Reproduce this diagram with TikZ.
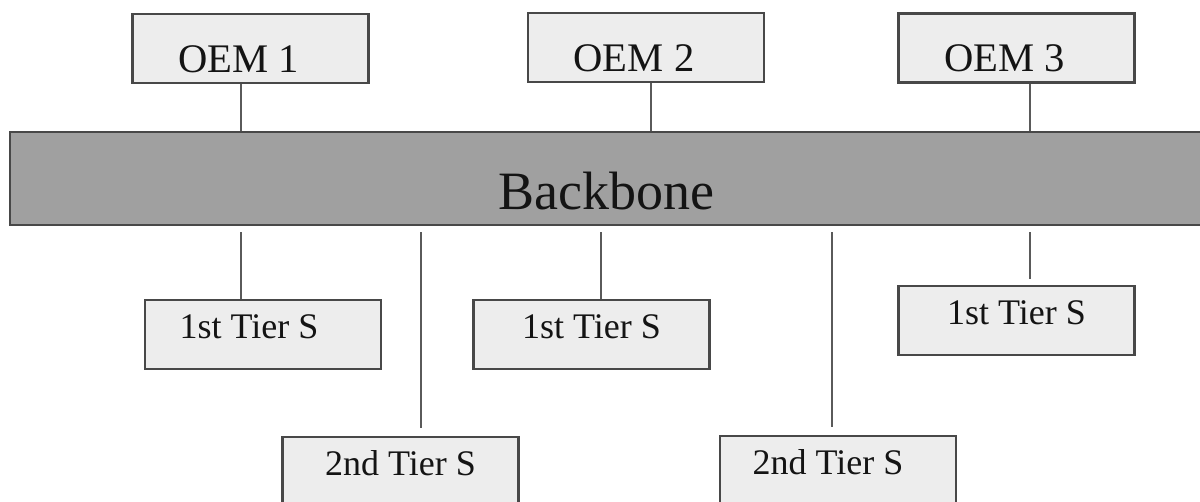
\documentclass[tikz,border=0pt]{standalone}
\usepackage{fontspec}
\setmainfont{Liberation Serif}
\definecolor{boxfill}{RGB}{237,237,237}
\definecolor{busfill}{RGB}{160,160,160}
\definecolor{edgegray}{RGB}{72,72,72}
\definecolor{linkgray}{RGB}{90,90,90}

\tikzset{every picture/.style={line width=1pt}}
\tikzset{
  oembox/.style={draw=edgegray, line width=1.2pt, fill=boxfill, inner sep=0pt,
    minimum width=118pt, minimum height=34.5pt, text height=24pt, text depth=0pt,
    text=black!92, font=\fontsize{20.3pt}{24pt}\selectfont},
  tierbox/.style={oembox, text height=3.75pt, font=\fontsize{18pt}{22pt}\selectfont},
  busbox/.style={draw=edgegray, line width=1.2pt, fill=busfill, inner sep=0pt,
    minimum width=600pt, minimum height=46.5pt, text height=31.5pt, text depth=0pt,
    text=black!92, font=\fontsize{27pt}{32pt}\selectfont},
  padright/.style={execute at end node={\hspace*{#1}}},
  link/.style={draw=linkgray, line width=1pt}
}

\begin{document}
\begin{tikzpicture}[x=0.5pt,y=0.5pt,yscale=-1,xscale=1]
\useasboundingbox (0,0) rectangle (1200,502);
\clip (0,0) rectangle (1200,502);

%Shape: Rectangle (backbone)
\node[busbox, padright=4pt] (backbone) at (610,178.5) {Backbone};

%Shape: Rectangle (OEMs)
\node[oembox, padright=12pt] (oem1) at (250.5,48.5) {OEM 1};
\node[oembox, padright=12pt] (oem2) at (646,47.5) {OEM 2};
\node[oembox, padright=12pt] (oem3) at (1016.5,48) {OEM 3};

%Shape: Rectangle (suppliers)
\node[tierbox, padright=14pt] (tier1a) at (263,334.5) {1st Tier S};
\node[tierbox] (tier1b) at (591.5,334.5) {1st Tier S};
\node[tierbox] (tier1c) at (1016.5,320.5) {1st Tier S};
\node[tierbox] (tier2a) at (400.5,471.5) {2nd Tier S};
\node[tierbox, padright=10pt] (tier2b) at (838,470.5) {2nd Tier S};

%Straight Lines (OEM to backbone)
\coordinate (up1) at (241,0);
\coordinate (up2) at (651,0);
\coordinate (up3) at (1030,0);
\draw[link] (oem1.south -| up1) -- (backbone.north -| up1);
\draw[link] (oem2.south -| up2) -- (backbone.north -| up2);
\draw[link] (oem3.south -| up3) -- (backbone.north -| up3);

%Straight Lines (backbone to suppliers)
\coordinate (dn1) at (241,0);
\coordinate (dn2) at (421,0);
\coordinate (dn3) at (601,0);
\coordinate (dn4) at (832,0);
\coordinate (dn5) at (1030,0);
\draw[link, shorten <=3pt] (backbone.south -| dn1) -- (tier1a.north -| dn1);
\draw[link, shorten <=3pt, shorten >=4pt] (backbone.south -| dn2) -- (tier2a.north -| dn2);
\draw[link, shorten <=3pt] (backbone.south -| dn3) -- (tier1b.north -| dn3);
\draw[link, shorten <=3pt, shorten >=4pt] (backbone.south -| dn4) -- (tier2b.north -| dn4);
\draw[link, shorten <=3pt, shorten >=3pt] (backbone.south -| dn5) -- (tier1c.north -| dn5);

\end{tikzpicture}
\end{document}
